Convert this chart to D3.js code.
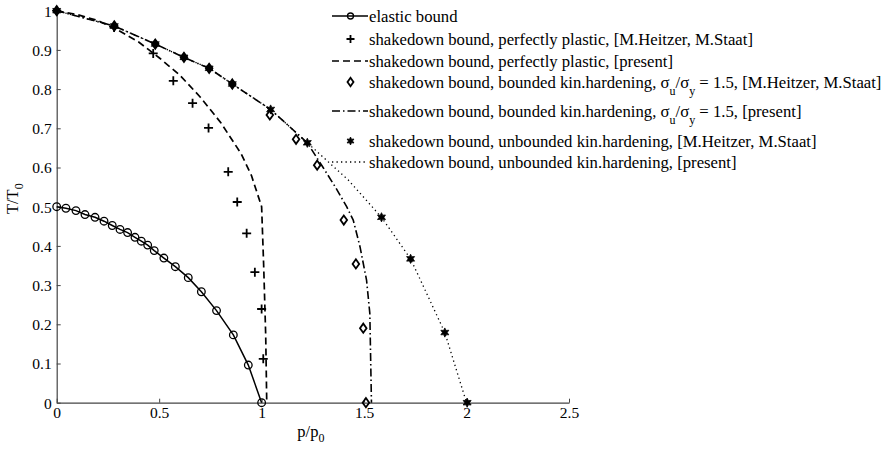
<!DOCTYPE html>
<html>
<head>
<meta charset="utf-8">
<script src="https://cdn.jsdelivr.net/npm/d3@7"></script>
<style>
  html, body { margin: 0; padding: 0; background: #fff; }
  svg { display: block; }
  svg text { font-family: "Liberation Serif", "Times New Roman", serif; }
</style>
</head>
<body>
<svg id="chart" width="890" height="451"></svg>
<script>
// Elastic bound (solid line with circles)
const elasticP = [0, 0.045, 0.094, 0.138, 0.187, 0.231, 0.271, 0.309, 0.346, 0.382, 0.413, 0.444, 0.476, 0.523, 0.579, 0.642, 0.706, 0.780, 0.862, 0.935, 1.0];
const elasticT = [0.5, 0.496, 0.490, 0.480, 0.473, 0.463, 0.452, 0.442, 0.434, 0.422, 0.412, 0.402, 0.388, 0.369, 0.347, 0.319, 0.283, 0.235, 0.173, 0.096, 0];

// Shakedown, perfectly plastic [M.Heitzer, M.Staat] (crosses)
const plasticRefP = [0, 0.28, 0.471, 0.569, 0.663, 0.741, 0.837, 0.881, 0.927, 0.967, 1.0, 1.008];
const plasticRefT = [1, 0.957, 0.891, 0.821, 0.764, 0.701, 0.589, 0.512, 0.432, 0.333, 0.239, 0.112];

// Shakedown, perfectly plastic [present] (dashed)
const plasticP = [0, 0.1, 0.2, 0.3, 0.4, 0.5, 0.6, 0.7, 0.8, 0.9, 0.95, 1.0, 1.01, 1.02, 1.025];
const plasticT = [1, 0.99, 0.975, 0.95, 0.92, 0.88, 0.836, 0.78, 0.715, 0.635, 0.58, 0.5, 0.35, 0.17, 0];

// Shakedown, bounded kinematic hardening [M.Heitzer, M.Staat] (open diamonds)
const boundedRefP = [0, 0.281, 0.481, 0.621, 0.744, 0.857, 1.04, 1.168, 1.271, 1.401, 1.46, 1.496, 1.509];
const boundedRefT = [1, 0.961, 0.915, 0.881, 0.853, 0.813, 0.734, 0.672, 0.606, 0.466, 0.354, 0.19, 0];

// Shakedown, bounded kinematic hardening [present] (dash-dot)
const boundedP = [0, 0.281, 0.481, 0.621, 0.744, 0.857, 1.044, 1.223, 1.3, 1.36, 1.415, 1.447, 1.48, 1.512, 1.528, 1.536];
const boundedT = [1, 0.961, 0.915, 0.881, 0.853, 0.813, 0.748, 0.663, 0.6, 0.55, 0.5, 0.466, 0.398, 0.313, 0.228, 0];

// Shakedown, unbounded kinematic hardening [M.Heitzer, M.Staat] (filled stars)
const unboundedRefP = [0, 0.281, 0.481, 0.621, 0.744, 0.857, 1.044, 1.223, 1.585, 1.727, 1.894, 2.003];
const unboundedRefT = [1, 0.961, 0.915, 0.881, 0.853, 0.813, 0.748, 0.663, 0.473, 0.367, 0.179, 0];

// Shakedown, unbounded kinematic hardening [present] (dotted)
const unboundedP = [0, 0.281, 0.481, 0.621, 0.744, 0.857, 1.044, 1.223, 1.423, 1.585, 1.727, 1.894, 2.0];
const unboundedT = [1, 0.961, 0.915, 0.881, 0.853, 0.813, 0.748, 0.663, 0.568, 0.473, 0.367, 0.179, 0];

const xTicks = [0, 0.5, 1, 1.5, 2, 2.5];
const xTickLabels = ["0", "0.5", "1", "1.5", "2", "2.5"];
const yTicks = [0, 0.1, 0.2, 0.3, 0.4, 0.5, 0.6, 0.7, 0.8, 0.9, 1];
const yTickLabels = ["0", "0.1", "0.2", "0.3", "0.4", "0.5", "0.6", "0.7", "0.8", "0.9", "1"];

const legendLabels = [
  ["elastic bound"],
  ["shakedown bound, perfectly plastic, [M.Heitzer, M.Staat]"],
  ["shakedown bound, perfectly plastic, [present]"],
  ["shakedown bound, bounded kin.hardening, ", "σ", "u", "/σ", "y", " = 1.5, [M.Heitzer, M.Staat]"],
  ["shakedown bound, bounded kin.hardening, ", "σ", "u", "/σ", "y", " = 1.5, [present]"],
  ["shakedown bound, unbounded kin.hardening, [M.Heitzer, M.Staat]"],
  ["shakedown bound, unbounded kin.hardening, [present]"]
];

const FONT = "Liberation Serif, Times New Roman, serif";
const svg = d3.select("#chart");
const x = d3.scaleLinear().domain([0, 2.5]).range([56.7, 569]);
const y = d3.scaleLinear().domain([0, 1]).range([402.7, 10.7]);

const zip = (a, b) => a.map((v, i) => [v, b[i]]);
const line = d3.line().x(d => x(d[0])).y(d => y(d[1]));

// Axes: inward ticks, only left and bottom
const xAxis = d3.axisBottom(x).tickValues(xTicks).tickFormat((d, i) => xTickLabels[i]).tickSizeInner(-4).tickSizeOuter(0).tickPadding(4);
const yAxis = d3.axisLeft(y).tickValues(yTicks).tickFormat((d, i) => yTickLabels[i]).tickSizeInner(-4).tickSizeOuter(0).tickPadding(5);

const gx = svg.append("g").attr("transform", `translate(0,${y(0)})`).call(xAxis);
const gy = svg.append("g").attr("transform", `translate(${x(0)},0)`).call(yAxis);
[gx, gy].forEach(g => {
  g.attr("font-family", FONT);
  g.select(".domain").attr("stroke", "#444").attr("stroke-width", 1.2);
  g.selectAll(".tick line").attr("stroke", "#444");
  g.selectAll(".tick text").style("font-family", FONT).attr("font-size", 15.5).attr("fill", "#000");
});
gy.selectAll(".tick text").attr("dy", "0.35em");
gx.selectAll(".tick text").attr("dy", "0.72em");

// Axis labels
const xl = svg.append("text").attr("x", x(1.25) - 2).attr("y", 437).attr("text-anchor", "middle")
  .style("font-family", FONT).attr("font-size", 16.5);
xl.append("tspan").text("p/p");
xl.append("tspan").attr("font-size", 12).attr("dy", 5).text("0");
const yl = svg.append("text").attr("transform", `translate(18,${y(0.5) - 8}) rotate(-90)`).attr("text-anchor", "middle")
  .style("font-family", FONT).attr("font-size", 16.5);
yl.append("tspan").text("T/T");
yl.append("tspan").attr("font-size", 12).attr("dy", 5).text("0");

const plot = svg.append("g");

// Curves
plot.append("path").datum(zip(elasticP, elasticT)).attr("d", line)
  .attr("fill", "none").attr("stroke", "#000").attr("stroke-width", 1.5);
plot.append("path").datum(zip(plasticP, plasticT)).attr("d", line)
  .attr("fill", "none").attr("stroke", "#000").attr("stroke-width", 1.7).attr("stroke-dasharray", "7,4");
plot.append("path").datum(zip(boundedP, boundedT)).attr("d", line)
  .attr("fill", "none").attr("stroke", "#000").attr("stroke-width", 1.6).attr("stroke-dasharray", "8,3,1.5,3");
plot.append("path").datum(zip(unboundedP, unboundedT)).attr("d", line)
  .attr("fill", "none").attr("stroke", "#000").attr("stroke-width", 1.3).attr("stroke-dasharray", "1.3,3.2");

// Marker shapes
function drawCircle(g, cx, cy, r) {
  g.append("circle").attr("cx", cx).attr("cy", cy).attr("r", r)
    .attr("fill", "none").attr("stroke", "#000").attr("stroke-width", 1.3);
}
function drawCross(g, cx, cy, s) {
  g.append("path").attr("d", `M${cx - s},${cy}H${cx + s}M${cx},${cy - s}V${cy + s}`)
    .attr("stroke", "#000").attr("stroke-width", 1.8).attr("fill", "none");
}
function drawDiamond(g, cx, cy, w, h) {
  g.append("path").attr("d", `M${cx},${cy - h}L${cx + w},${cy}L${cx},${cy + h}L${cx - w},${cy}Z`)
    .attr("stroke", "#000").attr("stroke-width", 1.8).attr("fill", "none");
}
function drawStar(g, cx, cy, ro, ri) {
  const pts = [];
  for (let k = 0; k < 12; k++) {
    const a = -Math.PI / 2 + k * Math.PI / 6;
    const r = k % 2 === 0 ? ro : ri;
    pts.push([cx + r * Math.cos(a), cy + r * Math.sin(a)]);
  }
  g.append("path").attr("d", "M" + pts.map(p => p.join(",")).join("L") + "Z")
    .attr("fill", "#000").attr("stroke", "#000").attr("stroke-width", 0.8);
}

zip(elasticP, elasticT).forEach(d => drawCircle(plot, x(d[0]), y(d[1]), 3.8));
zip(plasticRefP, plasticRefT).forEach(d => drawCross(plot, x(d[0]), y(d[1]), 4.5));
zip(boundedRefP, boundedRefT).forEach(d => drawDiamond(plot, x(d[0]), y(d[1]), 3.3, 4.6));
zip(unboundedRefP, unboundedRefT).forEach(d => drawStar(plot, x(d[0]), y(d[1]), 4.6, 2.4));

// Legend
const legendRowY = [16, 39, 61, 82, 111, 141, 162];
const lx0 = 332, lx1 = 368, lmid = 350.5, ltx = 369;
const legend = svg.append("g");
const styles = [
  { dash: null, w: 1.5, marker: "circle" },
  { dash: "none", marker: "cross" },
  { dash: "7,4", w: 1.7 },
  { dash: "none", marker: "diamond" },
  { dash: "8,3,1.5,3", w: 1.6 },
  { dash: "none", marker: "star" },
  { dash: "1.3,3.2", w: 1.3 }
];
styles.forEach((s, i) => {
  const ly = legendRowY[i];
  if (s.dash !== "none") {
    legend.append("line").attr("x1", lx0).attr("x2", lx1).attr("y1", ly).attr("y2", ly)
      .attr("stroke", "#000").attr("stroke-width", s.w).attr("stroke-dasharray", s.dash);
  }
  if (s.marker === "circle") drawCircle(legend, lmid, ly, 3);
  if (s.marker === "cross") drawCross(legend, lmid, ly, 4);
  if (s.marker === "diamond") drawDiamond(legend, lmid, ly, 3, 4.2);
  if (s.marker === "star") drawStar(legend, lmid, ly, 4, 2);

  const t = legend.append("text").attr("x", ltx).attr("y", ly + 5.5)
    .style("font-family", FONT).attr("font-size", 16.7).attr("fill", "#000");
  const parts = legendLabels[i];
  if (parts.length === 1) {
    t.text(parts[0]);
  } else {
    t.append("tspan").text(parts[0]);
    t.append("tspan").text(parts[1]);
    t.append("tspan").attr("font-size", 12).attr("dy", 7).text(parts[2]);
    t.append("tspan").attr("dy", -7).text(parts[3]);
    t.append("tspan").attr("font-size", 12).attr("dy", 7).text(parts[4]);
    t.append("tspan").attr("dy", -7).text(parts[5]);
  }
});
</script>
</body>
</html>
